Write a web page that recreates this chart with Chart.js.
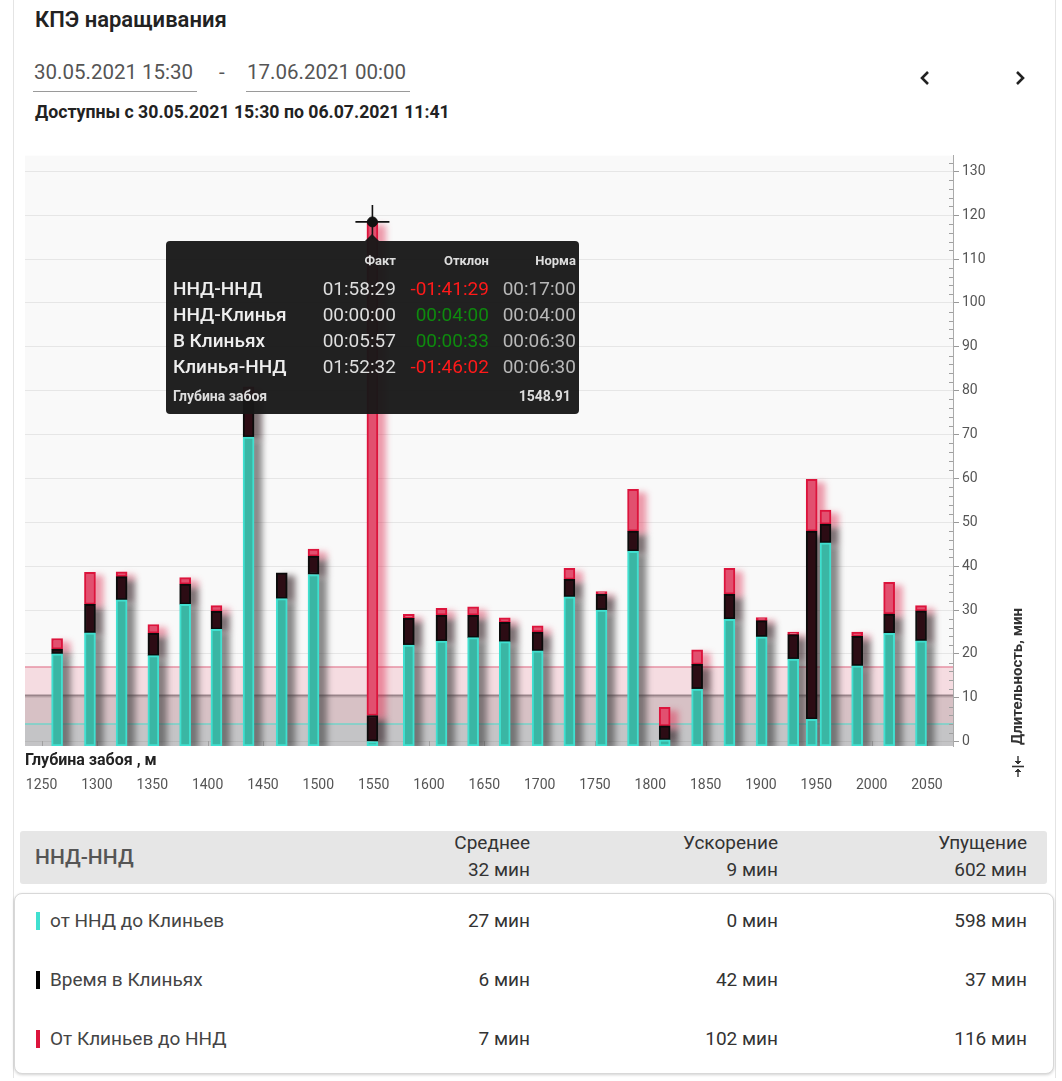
<!DOCTYPE html>
<html><head><meta charset="utf-8">
<script src="https://cdn.jsdelivr.net/npm/chart.js@4.4.1/dist/chart.umd.min.js"></script>
<style>
body{margin:0;background:#fff;font-family:Roboto,"Noto Sans",sans-serif;}
#page{position:relative;width:1062px;height:1081px;overflow:hidden;background:#fff;}
.card{position:absolute;left:13px;top:-10px;width:1041px;height:1088px;border-left:1px solid #e4e4e4;border-right:1px solid #e4e4e4;}
.abs{position:absolute;white-space:nowrap;line-height:1;}
#title{left:35px;top:9px;font-size:22px;font-weight:600;color:#222;}
.date{top:62px;font-size:20.5px;color:#555;}
.uline{height:1px;background:#9a9a9a;top:91px;line-height:0;}
#avail{left:35px;top:104px;font-size:17.7px;font-weight:700;color:#222;}
#chartBox{position:absolute;left:0;top:137px;width:1062px;height:673px;}
#xTitle{left:25px;top:752px;font-size:16px;font-weight:700;color:#222;}
#yTitle{left:937px;top:657px;width:160px;height:16px;line-height:16px;font-size:15px;font-weight:700;color:#333;transform:rotate(-90deg);text-align:left;}
#tip{position:absolute;width:413px;height:173px;background:rgba(24,24,24,0.96);border-radius:4px;color:#eee;}
#tip:before{content:"";position:absolute;left:199px;top:-7px;border-left:7px solid transparent;border-right:7px solid transparent;border-bottom:7px solid rgba(24,24,24,0.96);}
#tip .c{position:absolute;white-space:nowrap;line-height:1;}
#tip .h{font-size:13px;font-weight:700;color:#ddd;}
#tip .l{font-size:19px;font-weight:500;color:#eee;left:7px;}
#tip .v{font-size:19px;color:#dedede;}
#tip .f{font-size:14px;font-weight:700;color:#ddd;}
#sumHead{position:absolute;left:20px;top:831px;width:1027px;height:53px;background:#e6e6e6;border-radius:3px;}
#sumName{left:35px;top:847px;font-size:21px;font-weight:500;color:#555;}
.hcol{font-size:19px;color:#333;text-align:right;}
#sumCard{position:absolute;left:14px;top:893px;width:1038px;height:179px;border:1px solid #d8d8d8;border-radius:8px;box-shadow:0 1px 3px rgba(0,0,0,0.18);background:#fff;}
.mark{position:absolute;left:36px;width:4px;height:18px;}
.rl{left:50px;font-size:19px;color:#444;}
.rv{font-size:19px;color:#333;text-align:right;}
</style>
</head><body>
<div id="page">
  <div class="card"></div>
  <div id="title" class="abs">КПЭ наращивания</div>
  <div class="abs date" style="left:34px;">30.05.2021 15:30</div>
  <div class="abs uline" style="left:33px;width:164px;"></div>
  <div class="abs date" style="left:219px;">-</div>
  <div class="abs date" style="left:247px;">17.06.2021 00:00</div>
  <div class="abs uline" style="left:246px;width:164px;"></div>
  <svg class="abs" style="left:918px;top:70px;" width="14" height="16" viewBox="0 0 14 16"><polyline points="10,2 4,8 10,14" fill="none" stroke="#222" stroke-width="2.6"/></svg>
  <svg class="abs" style="left:1013px;top:70px;" width="14" height="16" viewBox="0 0 14 16"><polyline points="4,2 10,8 4,14" fill="none" stroke="#222" stroke-width="2.6"/></svg>
  <div id="avail" class="abs">Доступны с 30.05.2021 15:30 по 06.07.2021 11:41</div>
  <div id="chartBox"><canvas id="c" width="1062" height="673"></canvas></div>
  <div id="xTitle" class="abs">Глубина забоя , м</div>
  <div id="yTitle" class="abs">Длительность, мин</div>
  <svg class="abs" style="left:1011px;top:755px;" width="14" height="24" viewBox="0 0 14 24">
    <line x1="7" y1="1" x2="7" y2="8" stroke="#333" stroke-width="1.4"/><polyline points="4,6 7,9 10,6" fill="#333" stroke="#333" stroke-width="1"/>
    <line x1="1" y1="11.5" x2="13" y2="11.5" stroke="#333" stroke-width="1.6"/>
    <line x1="7" y1="15" x2="7" y2="22" stroke="#333" stroke-width="1.4"/><polyline points="4,17 7,14 10,17" fill="#333" stroke="#333" stroke-width="1"/>
  </svg>
  <div id="tip"></div>
  <div id="sumHead"></div>
  <div id="sumName" class="abs"></div>
  <div id="sumCard"></div>
</div>
<script>
// ---- data ----
const depthM = [1264, 1293.7, 1322.3, 1351, 1379.7, 1408, 1437, 1467, 1495.7, 1548.91, 1581.8, 1611.3, 1639.9, 1668.5, 1698.2, 1726.9, 1755.9, 1784.4, 1813, 1842.3, 1871.5, 1900.6, 1929.1, 1945.8, 1958.3, 1986.9, 2015.8, 2044.6];
const toWedgesMin = [20.0, 24.8, 32.3, 19.6, 31.3, 25.6, 69.4, 32.6, 38.1, 0, 22.0, 22.9, 23.7, 22.8, 20.7, 33.0, 30.0, 43.4, 0.4, 12.0, 27.9, 23.9, 18.8, 5.1, 45.3, 17.3, 24.7, 23.0];
const inWedgesMin = [1.1, 6.5, 5.3, 5.1, 4.6, 4.1, 9.0, 5.9, 4.2, 5.95, 6.1, 5.9, 5.1, 4.4, 4.3, 4.0, 3.6, 4.6, 3.2, 5.6, 5.7, 3.7, 5.6, 42.9, 4.3, 6.7, 4.4, 6.8];
const fromWedgesMin = [2.4, 7.3, 1.1, 2.0, 1.5, 1.3, 2.5, 0, 1.6, 112.53, 0.9, 1.6, 1.9, 1.0, 1.4, 2.5, 0.6, 9.5, 4.2, 3.3, 5.9, 0.7, 0.6, 11.8, 3.2, 1.0, 7.2, 1.2];
const normLevels = [4, 10.5, 17];
const seriesNames = ['от ННД до Клиньев', 'Время в Клиньях', 'От Клиньев до ННД'];
const hoverIndex = 9;
const tipColumns = ['Факт', 'Отклон', 'Норма'];
const tipRows = ['ННД-ННД', 'ННД-Клинья', 'В Клиньях', 'Клинья-ННД'];
const tipFact = ['01:58:29', '00:00:00', '00:05:57', '01:52:32'];
const tipDev = ['-01:41:29', '00:04:00', '00:00:33', '-01:46:02'];
const tipNorm = ['00:17:00', '00:04:00', '00:06:30', '00:06:30'];
const tipFooterLabel = 'Глубина забоя';
const tipFooterValue = '1548.91';
const summaryName = 'ННД-ННД';
const summaryCols = ['Среднее', 'Ускорение', 'Упущение'];
const summaryTotals = ['32 мин', '9 мин', '602 мин'];
const avgValues = ['27 мин', '6 мин', '7 мин'];
const accelValues = ['0 мин', '42 мин', '102 мин'];
const lossValues = ['598 мин', '37 мин', '116 мин'];

// ---- styles ----
const CANVAS_TOP = 137;
const fillColors = ['#3ab6a4', '#2c0c14', '#e2506f'];
const edgeColors = ['#40e0d0', '#0b0b0b', '#dc143c'];
const shadowColors = ['rgba(60,60,60,0.6)', 'rgba(40,20,25,0.6)', 'rgba(220,20,60,0.42)'];
const bandFills = ['rgba(64,224,208,0.12)', 'rgba(0,0,0,0.12)', 'rgba(220,20,60,0.127)'];
const bandLines = ['rgba(120,210,200,0.8)', 'rgba(120,100,105,0.7)', 'rgba(230,140,160,0.7)'];

Chart.defaults.font.family = 'Roboto, "Noto Sans", sans-serif';

const bgPlugin = {
  id: 'bg',
  beforeDraw(chart) {
    const {ctx, chartArea: a} = chart;
    ctx.save(); ctx.fillStyle = '#f9f9f9'; ctx.fillRect(a.left, a.top, a.width, a.height); ctx.restore();
  },
  beforeDatasetsDraw(chart) {
    const {ctx, chartArea: a, scales: {x, y}} = chart;
    ctx.save();
    for (let i = normLevels.length - 1; i >= 0; i--) {
      const top = y.getPixelForValue(normLevels[i]);
      ctx.fillStyle = bandFills[i];
      ctx.fillRect(a.left, top, a.width, a.bottom - top);
    }
    for (let i = 0; i < normLevels.length; i++) {
      const top = y.getPixelForValue(normLevels[i]);
      ctx.strokeStyle = bandLines[i]; ctx.lineWidth = 2;
      ctx.beginPath(); ctx.moveTo(a.left, top); ctx.lineTo(a.right, top); ctx.stroke();
    }
    ctx.strokeStyle = '#a0a0a0'; ctx.lineWidth = 1;
    for (let v = 0; v <= 132; v += 2) {
      if (v % 10 === 0) continue;
      const p = Math.round(y.getPixelForValue(v)) + 0.5;
      ctx.beginPath(); ctx.moveTo(a.right - 4, p); ctx.lineTo(a.right, p); ctx.stroke();
    }
    for (let v = 1250; v <= 2050; v += 50) {
      const p = Math.round(x.getPixelForValue(v)) + 0.5;
      ctx.beginPath(); ctx.moveTo(p, a.bottom - 5); ctx.lineTo(p, a.bottom); ctx.stroke();
    }
    ctx.beginPath(); ctx.rect(a.left, a.top, a.width, a.bottom - a.top); ctx.clip();
    ctx.filter = 'blur(3px)';
    chart.data.datasets.forEach((ds, di) => {
      if (ds.type === 'line') return;
      const meta = chart.getDatasetMeta(di);
      ctx.fillStyle = shadowColors[di];
      meta.data.forEach(el => {
        const p = el.getProps(['x', 'y', 'base', 'width']);
        const top = Math.min(p.y, p.base), h = Math.abs(p.base - p.y);
        if (h < 0.5) return;
        ctx.fillRect(p.x - p.width / 2 + 6, top + 3, p.width + 2, h);
      });
    });
    ctx.filter = 'none';
    ctx.restore();
  },
  afterRender(chart) {
    const {x, y} = chart.scales;
    const px = x.getPixelForValue(depthM[hoverIndex]);
    const py = y.getPixelForValue(toWedgesMin[hoverIndex] + inWedgesMin[hoverIndex] + fromWedgesMin[hoverIndex]);
    const tip = document.getElementById('tip');
    tip.style.left = (px - 206.5) + 'px';
    tip.style.top = (CANVAS_TOP + py + 19) + 'px';
  }
};

const hoverTotal = toWedgesMin[hoverIndex] + inWedgesMin[hoverIndex] + fromWedgesMin[hoverIndex];
const series = [toWedgesMin, inWedgesMin, fromWedgesMin];
const datasets = series.map((vals, i) => ({
  type: 'bar',
  label: seriesNames[i],
  data: vals.map((v, k) => ({x: depthM[k], y: v})),
  backgroundColor: fillColors[i],
  borderColor: edgeColors[i],
  borderWidth: 2,
  borderSkipped: false,
  barThickness: 11,
  order: 1,
  ...(i === 0 ? {base: -1} : {})
}));
datasets.push({
  type: 'line', stack: 'cross', showLine: false, order: -2,
  data: [{x: depthM[hoverIndex], y: hoverTotal}],
  pointStyle: 'cross', pointRadius: 17, borderColor: '#111', borderWidth: 1.6, backgroundColor: '#111'
});
datasets.push({
  type: 'line', stack: 'dot', showLine: false, order: -3,
  data: [{x: depthM[hoverIndex], y: hoverTotal}],
  pointStyle: 'circle', pointRadius: 5, borderColor: '#111', borderWidth: 1, backgroundColor: '#111'
});

new Chart(document.getElementById('c'), {
  type: 'bar',
  data: {datasets},
  options: {
    responsive: false, animation: false,
    layout: {padding: {left: 25, right: 69, top: 5, bottom: 4}},
    plugins: {legend: {display: false}, tooltip: {enabled: false}},
    scales: {
      x: {
        type: 'linear', min: 1235, max: 2073.5, stacked: true, offset: false,
        grid: {display: false, drawTicks: false, offset: false}, border: {display: false},
        ticks: {stepSize: 50, includeBounds: false, padding: 31, color: '#555', font: {size: 14}, maxRotation: 0, autoSkip: false,
                callback: v => String(v)},
        afterFit(s) { s.height = 60; s.paddingLeft = 0; s.paddingRight = 0; }
      },
      y: {
        position: 'right', min: -1, max: 133.6, stacked: true,
        grid: {color: '#e6e6e6', tickLength: 6, tickColor: '#999'}, border: {color: '#aaa'},
        ticks: {stepSize: 10, includeBounds: false, padding: 3, color: '#555', font: {size: 14}, callback: v => String(v)},
        afterFit(s) { s.width = 40; }
      }
    }
  },
  plugins: [bgPlugin]
});

// ---- tooltip html ----
(function () {
  const tip = document.getElementById('tip');
  const colRight = [183, 90, 3];
  let h = '';
  tipColumns.forEach((t, i) => { h += `<div class="c h" style="right:${colRight[i]}px;top:13px;">${t}</div>`; });
  tipRows.forEach((r, k) => {
    const top = 38.5 + k * 26;
    h += `<div class="c l" style="top:${top}px;">${r}</div>`;
    h += `<div class="c v" style="right:${colRight[0]}px;top:${top}px;">${tipFact[k]}</div>`;
    const neg = tipDev[k].startsWith('-');
    h += `<div class="c v" style="right:${colRight[1]}px;top:${top}px;color:${neg ? '#ff1a1a' : '#0e8a0e'};">${tipDev[k]}</div>`;
    h += `<div class="c v" style="right:${colRight[2]}px;top:${top}px;color:#b8b8b8;">${tipNorm[k]}</div>`;
  });
  h += `<div class="c f" style="left:7px;top:148px;">${tipFooterLabel}</div>`;
  h += `<div class="c f" style="right:8px;top:148px;">${tipFooterValue}</div>`;
  tip.innerHTML = h;

  document.getElementById('sumName').textContent = summaryName;
  const page = document.getElementById('page');
  const rights = [530, 778, 1027];
  summaryCols.forEach((c, i) => {
    const a = document.createElement('div'); a.className = 'abs hcol'; a.textContent = c;
    a.style.right = (1062 - rights[i]) + 'px'; a.style.top = '833px'; page.appendChild(a);
    const b = document.createElement('div'); b.className = 'abs hcol'; b.textContent = summaryTotals[i];
    b.style.right = (1062 - rights[i]) + 'px'; b.style.top = '860px'; page.appendChild(b);
  });
  const rowsY = [921, 980, 1039];
  seriesNames.forEach((n, k) => {
    const m = document.createElement('div'); m.className = 'mark';
    m.style.top = (rowsY[k] - 9) + 'px'; m.style.background = [edgeColors[0], '#000', edgeColors[2]][k]; page.appendChild(m);
    const l = document.createElement('div'); l.className = 'abs rl'; l.textContent = n; l.style.top = (rowsY[k] - 10.5) + 'px'; page.appendChild(l);
    [avgValues, accelValues, lossValues].forEach((arr, i) => {
      const v = document.createElement('div'); v.className = 'abs rv'; v.textContent = arr[k];
      v.style.right = (1062 - rights[i]) + 'px'; v.style.top = (rowsY[k] - 10.5) + 'px'; page.appendChild(v);
    });
  });
})();
</script>
</body></html>
